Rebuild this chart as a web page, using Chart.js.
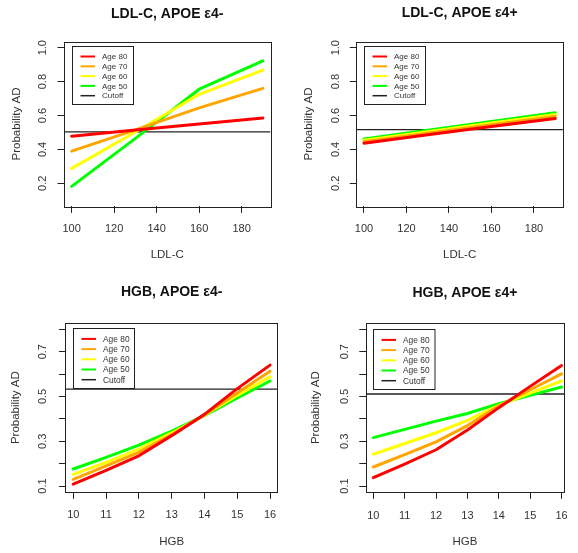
<!DOCTYPE html>
<html>
<head>
<meta charset="utf-8">
<script src="https://cdn.jsdelivr.net/npm/chart.js@4/dist/chart.umd.min.js"></script>
<style>
  html, body { margin: 0; padding: 0; background: #fff; }
  #wrap { position: relative; width: 578px; height: 553px; overflow: hidden; }
  canvas { position: absolute; }
</style>
</head>
<body>
<div id="wrap">
  <canvas id="ldlNeg" width="289" height="272" style="left:0;top:0"></canvas>
  <canvas id="ldlPos" width="289" height="272" style="left:289px;top:0"></canvas>
  <canvas id="hgbNeg" width="289" height="277" style="left:0;top:276px"></canvas>
  <canvas id="hgbPos" width="289" height="277" style="left:289px;top:276px"></canvas>
</div>
<script>
// ---- data ----
const ageLabels = ['Age 80', 'Age 70', 'Age 60', 'Age 50'];
const cutoffLabel = 'Cutoff';

const ldlLevels = [100, 130, 160, 190];
const hgbLevels = [10, 11, 12, 13, 14, 15, 16];

// LDL-C, APOE e4-
const ldlNegAge80 = [0.478, 0.514, 0.550, 0.585];
const ldlNegAge70 = [0.390, 0.515, 0.645, 0.760];
const ldlNegAge60 = [0.288, 0.503, 0.725, 0.868];
const ldlNegAge50 = [0.182, 0.465, 0.755, 0.923];
const ldlNegCutoff = 0.503;

// LDL-C, APOE e4+
const ldlPosAge80 = [0.437, 0.486, 0.535, 0.583];
const ldlPosAge70 = [0.446, 0.495, 0.545, 0.594];
const ldlPosAge60 = [0.454, 0.505, 0.556, 0.606];
const ldlPosAge50 = [0.461, 0.513, 0.565, 0.617];
const ldlPosCutoff = 0.517;

// HGB, APOE e4-
const hgbNegAge80 = [0.108, 0.170, 0.235, 0.325, 0.420, 0.535, 0.640];
const hgbNegAge70 = [0.130, 0.190, 0.250, 0.330, 0.418, 0.515, 0.612];
const hgbNegAge60 = [0.152, 0.206, 0.265, 0.337, 0.416, 0.505, 0.588];
const hgbNegAge50 = [0.176, 0.228, 0.283, 0.345, 0.414, 0.493, 0.569];
const hgbNegCutoff = 0.533;

// HGB, APOE e4+
const hgbPosAge80 = [0.137, 0.198, 0.262, 0.350, 0.450, 0.545, 0.638];
const hgbPosAge70 = [0.185, 0.240, 0.297, 0.370, 0.458, 0.530, 0.601];
const hgbPosAge60 = [0.242, 0.290, 0.338, 0.393, 0.460, 0.515, 0.569];
const hgbPosAge50 = [0.316, 0.353, 0.390, 0.424, 0.468, 0.505, 0.542];
const hgbPosCutoff = 0.511;

// ---- axis ticks ----
const ldlTicks = [100, 120, 140, 160, 180];
const hgbTicks = [10, 11, 12, 13, 14, 15, 16];
const probTicksLdl = [0.2, 0.4, 0.6, 0.8, 1.0];
const probLabelsLdl = [0.2, 0.4, 0.6, 0.8, 1.0];
const probTicksHgb = [0.1, 0.2, 0.3, 0.4, 0.5, 0.6, 0.7, 0.8];
const probLabelsHgb = [0.1, 0.3, 0.5, 0.7];

// ---- styling ----
const ageColors = ['#ff0000', '#ffa500', '#ffff00', '#00ff00'];
const INK = '#222222';
const TEXT = '#333333';
const FONT = '"Liberation Sans", Arial, Helvetica, sans-serif';
const TICK_SIZE = 11;
const AXIS_TITLE_SIZE = 11.5;
const TICK_LEN = 6.5;

const measureCtx = document.createElement('canvas').getContext('2d');
function textWidth(str, size) {
  measureCtx.font = size + 'px ' + FONT;
  return measureCtx.measureText(str).width;
}

// Frame, cutoff line, legend and heading for each panel
const panelDecor = {
  id: 'panelDecor',
  beforeDatasetsDraw(chart, args, o) {
    const { ctx, chartArea: a, scales: { y } } = chart;
    const py = y.getPixelForValue(o.cutoff);
    ctx.save();
    ctx.beginPath();
    ctx.rect(a.left, a.top, a.right - a.left, a.bottom - a.top);
    ctx.clip();
    ctx.strokeStyle = INK;
    ctx.lineWidth = 1.3;
    ctx.beginPath();
    ctx.moveTo(a.left, py);
    ctx.lineTo(a.right, py);
    ctx.stroke();
    ctx.restore();
  },
  afterDatasetsDraw(chart, args, o) {
    const { ctx, chartArea: a } = chart;
    ctx.save();
    // plot frame
    ctx.strokeStyle = INK;
    ctx.lineWidth = 1;
    ctx.strokeRect(Math.round(a.left) + 0.5, Math.round(a.top) + 0.5,
                   Math.round(a.right - a.left), Math.round(a.bottom - a.top));

    // legend box
    const lg = o.legend;
    const x0 = Math.round(a.left + lg.dx) + 0.5;
    const y0 = Math.round(a.top + lg.dy) + 0.5;
    const h = Math.round(lg.pitch * 5.88);
    ctx.fillStyle = '#ffffff';
    ctx.fillRect(x0, y0, lg.width, h);
    ctx.strokeRect(x0, y0, lg.width, h);

    const entries = chart.data.datasets.map(ds => ({ label: ds.label, color: ds.borderColor, w: 2 }));
    entries.push({ label: cutoffLabel, color: INK, w: 1.5 });
    ctx.font = lg.fontSize + 'px ' + FONT;
    ctx.textBaseline = 'middle';
    ctx.textAlign = 'left';
    entries.forEach((e, i) => {
      const yy = y0 + lg.pitch * (i + 1) + 0.2;
      ctx.strokeStyle = e.color;
      ctx.lineWidth = e.w;
      ctx.beginPath();
      ctx.moveTo(x0 + 8, yy);
      ctx.lineTo(x0 + 22.5, yy);
      ctx.stroke();
      ctx.fillStyle = TEXT;
      ctx.fillText(e.label, x0 + 29.5, yy + 0.5);
    });
    ctx.restore();
  },
  afterDraw(chart, args, o) {
    const { ctx, chartArea: a } = chart;
    ctx.save();
    ctx.font = 'bold 14px ' + FONT;
    ctx.fillStyle = '#111111';
    ctx.textAlign = 'center';
    ctx.textBaseline = 'middle';
    ctx.fillText(o.heading, (a.left + a.right) / 2, o.headingY);
    ctx.restore();
  }
};

function buildPanel(id, p) {
  const canvas = document.getElementById(id);
  const W = canvas.width, H = canvas.height;
  const area = p.area;
  const lh = AXIS_TITLE_SIZE * 1.2;
  const tickLh = TICK_SIZE * 1.2;
  const widest = Math.max(...p.yLabels.map(v => textWidth(v.toFixed(1), TICK_SIZE)));

  const datasets = p.series.map((vals, i) => ({
    label: ageLabels[i],
    data: p.levels.map((x, j) => ({ x: x, y: vals[j] })),
    borderColor: ageColors[i],
    backgroundColor: ageColors[i],
    borderWidth: 3,
    borderCapStyle: 'round',
    borderJoinStyle: 'round',
    pointRadius: 0,
    pointHoverRadius: 0,
    tension: 0,
    fill: false
  }));

  return new Chart(canvas, {
    type: 'line',
    data: { datasets },
    plugins: [panelDecor],
    options: {
      responsive: false,
      animation: false,
      devicePixelRatio: 1,
      events: [],
      layout: { padding: { left: 0, top: area.top, right: W - area.right, bottom: 0 } },
      plugins: {
        legend: { display: false },
        title: { display: false },
        tooltip: { enabled: false },
        panelDecor: {
          cutoff: p.cutoff,
          heading: p.heading,
          headingY: p.headingY,
          legend: p.legend
        }
      },
      scales: {
        x: {
          type: 'linear',
          min: p.xRange[0],
          max: p.xRange[1],
          afterBuildTicks: s => { s.ticks = p.xTicks.map(v => ({ value: v })); },
          afterFit: s => { s.height = H - area.bottom; },
          grid: { drawOnChartArea: false, drawTicks: true, tickLength: TICK_LEN, color: INK, lineWidth: 1 },
          border: { display: false },
          ticks: {
            autoSkip: false, maxRotation: 0, minRotation: 0,
            padding: p.xTickGap - TICK_LEN - tickLh / 2,
            color: TEXT,
            font: { family: FONT, size: TICK_SIZE },
            callback: v => String(v)
          },
          title: {
            display: true, text: p.xTitle, color: TEXT,
            font: { family: FONT, size: AXIS_TITLE_SIZE },
            padding: { top: 0, bottom: H - (area.bottom + p.xTitleGap) - lh / 2 }
          }
        },
        y: {
          type: 'linear',
          min: p.yRange[0],
          max: p.yRange[1],
          afterBuildTicks: s => { s.ticks = p.yTicks.map(v => ({ value: v })); },
          afterFit: s => { s.width = area.left; },
          grid: { drawOnChartArea: false, drawTicks: true, tickLength: TICK_LEN, color: INK, lineWidth: 1 },
          border: { display: false },
          ticks: {
            autoSkip: false, minRotation: 90, maxRotation: 90, crossAlign: 'center',
            padding: area.left - p.yTickX - TICK_LEN - widest / 2,
            color: TEXT,
            font: { family: FONT, size: TICK_SIZE },
            callback: v => (p.yLabels.includes(v) ? v.toFixed(1) : '')
          },
          title: {
            display: true, text: 'Probability AD', color: TEXT,
            font: { family: FONT, size: AXIS_TITLE_SIZE },
            padding: { top: p.yTitleX - lh / 2, bottom: 0 }
          }
        }
      }
    }
  });
}

buildPanel('ldlNeg', {
  heading: 'LDL-C, APOE \u03b54-', headingY: 14,
  xTitle: 'LDL-C', levels: ldlLevels,
  series: [ldlNegAge80, ldlNegAge70, ldlNegAge60, ldlNegAge50], cutoff: ldlNegCutoff,
  xTicks: ldlTicks, yTicks: probTicksLdl, yLabels: probLabelsLdl,
  xRange: [96.4, 193.6], yRange: [0.064, 1.036],
  area: { left: 64, right: 270.5, top: 41.6, bottom: 206.4 },
  yTickX: 43, yTitleX: 16.7, xTickGap: 22.6, xTitleGap: 48.6,
  legend: { dx: 7.7, dy: 4.6, width: 61, pitch: 9.8, fontSize: 8 }
});

buildPanel('ldlPos', {
  heading: 'LDL-C, APOE \u03b54+', headingY: 13.6,
  xTitle: 'LDL-C', levels: ldlLevels,
  series: [ldlPosAge80, ldlPosAge70, ldlPosAge60, ldlPosAge50], cutoff: ldlPosCutoff,
  xTicks: ldlTicks, yTicks: probTicksLdl, yLabels: probLabelsLdl,
  xRange: [96.4, 193.6], yRange: [0.064, 1.036],
  area: { left: 67.3, right: 273.9, top: 41.6, bottom: 206.4 },
  yTickX: 47.3, yTitleX: 19.7, xTickGap: 22.6, xTitleGap: 48.6,
  legend: { dx: 7.7, dy: 4.6, width: 61, pitch: 9.8, fontSize: 8 }
});

buildPanel('hgbNeg', {
  heading: 'HGB, APOE \u03b54-', headingY: 16.3,
  xTitle: 'HGB', levels: hgbLevels,
  series: [hgbNegAge80, hgbNegAge70, hgbNegAge60, hgbNegAge50], cutoff: hgbNegCutoff,
  xTicks: hgbTicks, yTicks: probTicksHgb, yLabels: probLabelsHgb,
  xRange: [9.76, 16.24], yRange: [0.072, 0.828],
  area: { left: 65.4, right: 277.9, top: 47, bottom: 216.3 },
  yTickX: 43.3, yTitleX: 16, xTickGap: 22.7, xTitleGap: 49.4,
  legend: { dx: 7.9, dy: 5.3, width: 61, pitch: 10.2, fontSize: 8.4 }
});

buildPanel('hgbPos', {
  heading: 'HGB, APOE \u03b54+', headingY: 17.3,
  xTitle: 'HGB', levels: hgbLevels,
  series: [hgbPosAge80, hgbPosAge70, hgbPosAge60, hgbPosAge50], cutoff: hgbPosCutoff,
  xTicks: hgbTicks, yTicks: probTicksHgb, yLabels: probLabelsHgb,
  xRange: [9.76, 16.08], yRange: [0.072, 0.828],
  area: { left: 76.8, right: 284, top: 47, bottom: 216.3 },
  yTickX: 55.7, yTitleX: 27.3, xTickGap: 23.4, xTitleGap: 49.7,
  legend: { dx: 7, dy: 6, width: 61.5, pitch: 10.2, fontSize: 8.4 }
});
</script>
</body>
</html>
